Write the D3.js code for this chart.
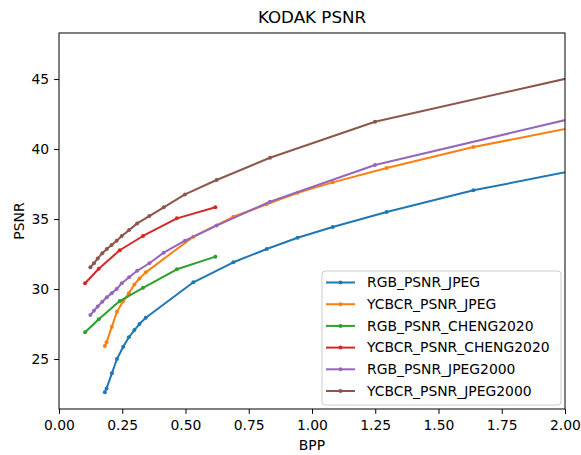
<!DOCTYPE html>
<html>
<head>
<meta charset="utf-8">
<script src="https://cdn.jsdelivr.net/npm/d3@7"></script>
<style>
  body { margin: 0; background: #fff; }
  svg { display: block; font-family: "DejaVu Sans", sans-serif; }
</style>
</head>
<body>
<div id="chart"></div>
<script>
// ---- data ----
const jpegBpp = [0.181, 0.188, 0.209, 0.229, 0.254, 0.276, 0.298, 0.318, 0.343, 0.531, 0.689, 0.821, 0.943, 1.082, 1.295, 1.638, 2.3];
const rgbJpeg = [22.62, 22.9, 23.98, 25.0, 25.88, 26.55, 27.07, 27.5, 27.95, 30.48, 31.91, 32.86, 33.66, 34.43, 35.5, 37.05, 39.4];
const ycbcrJpeg = [25.93, 26.19, 27.31, 28.38, 29.14, 29.69, 30.33, 30.76, 31.19, 33.74, 35.16, 36.05, 36.88, 37.62, 38.64, 40.14, 42.5];

const chengBpp = [0.103, 0.157, 0.240, 0.332, 0.466, 0.618];
const rgbCheng = [26.91, 27.84, 29.14, 30.09, 31.41, 32.31];
const ycbcrCheng = [30.41, 31.45, 32.77, 33.79, 35.05, 35.84];

const j2kBpp = [0.124, 0.138, 0.153, 0.171, 0.189, 0.208, 0.228, 0.248, 0.277, 0.309, 0.357, 0.414, 0.498, 0.623, 0.834, 1.249, 2.5];
const rgbJ2k = [28.14, 28.45, 28.75, 29.09, 29.41, 29.69, 30.0, 30.41, 30.84, 31.3, 31.84, 32.6, 33.45, 34.53, 36.24, 38.86, 44.2];
const ycbcrJ2k = [31.55, 31.84, 32.19, 32.55, 32.86, 33.14, 33.45, 33.79, 34.21, 34.69, 35.21, 35.84, 36.76, 37.79, 39.38, 41.95, 47.05];

const seriesNames = ['RGB_PSNR_JPEG', 'YCBCR_PSNR_JPEG', 'RGB_PSNR_CHENG2020', 'YCBCR_PSNR_CHENG2020', 'RGB_PSNR_JPEG2000', 'YCBCR_PSNR_JPEG2000'];
const seriesX = [jpegBpp, jpegBpp, chengBpp, chengBpp, j2kBpp, j2kBpp];
const seriesY = [rgbJpeg, ycbcrJpeg, rgbCheng, ycbcrCheng, rgbJ2k, ycbcrJ2k];
const colors = ['#1f77b4', '#ff7f0e', '#2ca02c', '#d62728', '#9467bd', '#8c564b'];

const xTicks = [0, 0.25, 0.5, 0.75, 1.0, 1.25, 1.5, 1.75, 2.0];
const yTicks = [25, 30, 35, 40, 45];

// ---- layout ----
const W = 581, H = 455;
const plot = { left: 59, right: 565, top: 33, bottom: 409 };
const FS = 13.9;

const svg = d3.select('#chart').append('svg').attr('width', W).attr('height', H);

const x = d3.scaleLinear().domain([0, 2]).range([plot.left, plot.right]);
const y = d3.scaleLinear().domain([21.43, 48.29]).range([plot.bottom, plot.top]);

svg.append('defs').append('clipPath').attr('id', 'clip')
  .append('rect').attr('x', plot.left).attr('y', plot.top)
  .attr('width', plot.right - plot.left).attr('height', plot.bottom - plot.top);

// series
const g = svg.append('g').attr('clip-path', 'url(#clip)');
const line = d3.line().x(d => x(d[0])).y(d => y(d[1]));
seriesNames.forEach((name, i) => {
  const pts = seriesX[i].map((v, k) => [v, seriesY[i][k]]);
  g.append('path').datum(pts).attr('d', line)
    .attr('fill', 'none').attr('stroke', colors[i]).attr('stroke-width', 2)
    .attr('stroke-linejoin', 'round').attr('stroke-linecap', 'square');
  g.selectAll(null).data(pts).enter().append('circle')
    .attr('cx', d => x(d[0])).attr('cy', d => y(d[1])).attr('r', 2)
    .attr('fill', colors[i]);
});

// axes
const xAxis = svg.append('g').attr('transform', `translate(0,${plot.bottom})`)
  .call(d3.axisBottom(x).tickValues(xTicks).tickFormat(d3.format('.2f')).tickSizeOuter(0).tickSize(4.9).tickPadding(6.5));
const yAxis = svg.append('g').attr('transform', `translate(${plot.left},0)`)
  .call(d3.axisLeft(y).tickValues(yTicks).tickFormat(d3.format('d')).tickSizeOuter(0).tickSize(4.9).tickPadding(4.9));
[xAxis, yAxis].forEach(a => {
  a.select('.domain').remove();
  a.selectAll('line').attr('stroke', '#000').attr('stroke-width', 1);
  a.selectAll('text').attr('fill', '#000').attr('font-size', FS).attr('font-family', 'DejaVu Sans');
});

// frame
svg.append('rect').attr('x', plot.left).attr('y', plot.top)
  .attr('width', plot.right - plot.left).attr('height', plot.bottom - plot.top)
  .attr('fill', 'none').attr('stroke', '#000').attr('stroke-width', 1);

// labels
svg.append('text').attr('x', (plot.left + plot.right) / 2).attr('y', 23)
  .attr('text-anchor', 'middle').attr('font-size', 16.7).text('KODAK PSNR');
svg.append('text').attr('x', (plot.left + plot.right) / 2).attr('y', 450)
  .attr('text-anchor', 'middle').attr('font-size', FS).text('BPP');
svg.append('text').attr('transform', `translate(23.5,${(plot.top + plot.bottom) / 2}) rotate(-90)`)
  .attr('text-anchor', 'middle').attr('font-size', FS).text('PSNR');

// legend
const lg = svg.append('g').attr('transform', 'translate(322,271)');
lg.append('rect').attr('width', 239).attr('height', 134).attr('rx', 3)
  .attr('fill', '#fff').attr('fill-opacity', 0.8).attr('stroke', '#ccc').attr('stroke-width', 1);
seriesNames.forEach((name, i) => {
  const yy = 11.5 + i * 21.7;
  lg.append('line').attr('x1', 4).attr('x2', 33).attr('y1', yy).attr('y2', yy)
    .attr('stroke', colors[i]).attr('stroke-width', 2);
  lg.append('circle').attr('cx', 18.5).attr('cy', yy).attr('r', 2).attr('fill', colors[i]);
  lg.append('text').attr('x', 45).attr('y', yy).attr('dy', '0.35em')
    .attr('font-size', FS).text(name);
});
</script>
</body>
</html>
